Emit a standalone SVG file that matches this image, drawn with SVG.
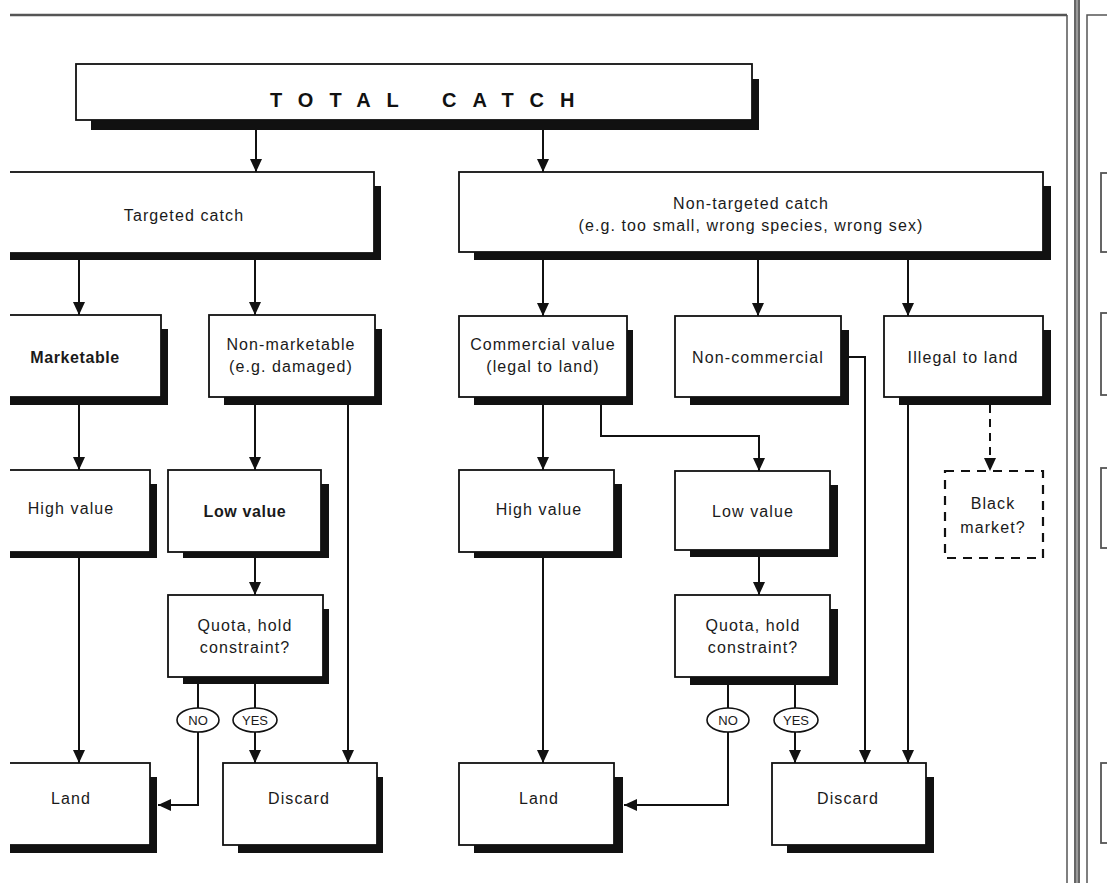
<svg xmlns="http://www.w3.org/2000/svg" width="1107" height="883" viewBox="0 0 1107 883">
<defs>
<marker id="ah" markerWidth="13" markerHeight="12" refX="13" refY="6" orient="auto" markerUnits="userSpaceOnUse">
<path d="M0,0 L13,6 L0,12 z" fill="#111"/>
</marker>
<clipPath id="page"><rect x="10" y="0" width="1097" height="883"/></clipPath>
</defs>
<style>
.box{fill:#fff;stroke:#111;stroke-width:1.8}
.sh{fill:#111}
.dash{fill:#fff;stroke:#111;stroke-width:2.2;stroke-dasharray:9 7}
.c{fill:none;stroke:#111;stroke-width:2}
.cd{fill:none;stroke:#111;stroke-width:2;stroke-dasharray:8 6}
.t{font-family:"Liberation Sans",Arial,sans-serif;font-size:16px;letter-spacing:1.1px;fill:#1a1a1a;text-anchor:middle;dominant-baseline:central}
.b{font-weight:bold;letter-spacing:0.6px}
.el{fill:#fff;stroke:#111;stroke-width:1.6}
.s{font-family:"Liberation Sans",Arial,sans-serif;font-size:13px;fill:#1a1a1a;text-anchor:middle;dominant-baseline:central}
.fr{stroke:#555;fill:none}
.tc{font-family:"Liberation Sans",Arial,sans-serif;font-size:20px;font-weight:bold;letter-spacing:16px;word-spacing:6px;fill:#111;dominant-baseline:central}
</style>
<rect x="0" y="0" width="1107" height="883" fill="#fff"/>
<g id="frame">
<line class="fr" x1="10" y1="15" x2="1067" y2="15" stroke-width="2.5"/>
<line class="fr" x1="1067" y1="15" x2="1067" y2="883" stroke-width="1.5" stroke="#777"/>
<rect x="1074" y="0" width="6" height="883" fill="#9a9a9a"/>
<line class="fr" x1="1075" y1="0" x2="1075" y2="883" stroke-width="1.5" stroke="#444"/>
<line class="fr" x1="1079" y1="0" x2="1079" y2="883" stroke-width="1.5" stroke="#444"/>
<polyline class="fr" points="1087,883 1087,15 1107,15" stroke-width="1.5"/>
<rect class="fr" x="1101" y="173" width="20" height="79" stroke-width="1.8"/>
<rect class="fr" x="1101" y="313" width="20" height="82" stroke-width="1.8"/>
<rect class="fr" x="1101" y="468" width="20" height="80" stroke-width="1.8"/>
<rect class="fr" x="1101" y="763" width="20" height="80" stroke-width="1.8"/>
</g>
<g clip-path="url(#page)">
<g id="connectors">
<line class="c" x1="256" y1="120" x2="256" y2="172" marker-end="url(#ah)"/>
<line class="c" x1="543" y1="120" x2="543" y2="172" marker-end="url(#ah)"/>
<line class="c" x1="79" y1="253" x2="79" y2="315" marker-end="url(#ah)"/>
<line class="c" x1="255" y1="253" x2="255" y2="315" marker-end="url(#ah)"/>
<line class="c" x1="543" y1="252" x2="543" y2="316" marker-end="url(#ah)"/>
<line class="c" x1="758" y1="252" x2="758" y2="316" marker-end="url(#ah)"/>
<line class="c" x1="908" y1="252" x2="908" y2="316" marker-end="url(#ah)"/>
<line class="c" x1="79" y1="397" x2="79" y2="470" marker-end="url(#ah)"/>
<line class="c" x1="255" y1="397" x2="255" y2="470" marker-end="url(#ah)"/>
<line class="c" x1="348" y1="397" x2="348" y2="763" marker-end="url(#ah)"/>
<line class="c" x1="79" y1="552" x2="79" y2="763" marker-end="url(#ah)"/>
<line class="c" x1="255" y1="552" x2="255" y2="595" marker-end="url(#ah)"/>
<line class="c" x1="198" y1="677" x2="198" y2="708"/>
<polyline class="c" points="198,732 198,805 158,805" marker-end="url(#ah)"/>
<line class="c" x1="255" y1="677" x2="255" y2="708"/>
<line class="c" x1="255" y1="732" x2="255" y2="763" marker-end="url(#ah)"/>
<line class="c" x1="543" y1="397" x2="543" y2="470" marker-end="url(#ah)"/>
<polyline class="c" points="601,397 601,436 759,436 759,471" marker-end="url(#ah)"/>
<line class="c" x1="543" y1="552" x2="543" y2="763" marker-end="url(#ah)"/>
<line class="c" x1="759" y1="550" x2="759" y2="595" marker-end="url(#ah)"/>
<line class="c" x1="728" y1="677" x2="728" y2="708"/>
<polyline class="c" points="728,732 728,805 624,805" marker-end="url(#ah)"/>
<line class="c" x1="795" y1="677" x2="795" y2="708"/>
<line class="c" x1="795" y1="732" x2="795" y2="763" marker-end="url(#ah)"/>
<polyline class="c" points="841,357 865,357 865,763" marker-end="url(#ah)"/>
<line class="c" x1="908" y1="397" x2="908" y2="763" marker-end="url(#ah)"/>
<line class="cd" x1="990" y1="405" x2="990" y2="471" marker-end="url(#ah)"/>
</g>
<g id="total-catch">
<rect class="sh" x="91" y="79" width="668" height="51"/>
<rect class="box" x="76" y="64" width="676" height="56"/>
<text class="tc" x="270" y="100">TOTAL CATCH</text>
</g>
<g id="targeted">
<rect class="sh" x="-5" y="186" width="386" height="74"/>
<rect class="box" x="-20" y="172" width="394" height="81"/>
<text class="t" x="184" y="215">Targeted catch</text>
</g>
<g id="non-targeted">
<rect class="sh" x="474" y="186" width="577" height="74"/>
<rect class="box" x="459" y="172" width="584" height="80"/>
<text class="t" x="751" y="203">Non-targeted catch</text>
<text class="t" x="751" y="225">(e.g. too small, wrong species, wrong sex)</text>
</g>
<g id="marketable">
<rect class="sh" x="-5" y="329" width="173" height="76"/>
<rect class="box" x="-20" y="315" width="181" height="82"/>
<text class="t b" x="75" y="357">Marketable</text>
</g>
<g id="non-marketable">
<rect class="sh" x="224" y="329" width="158" height="76"/>
<rect class="box" x="209" y="315" width="166" height="82"/>
<text class="t" x="291" y="344">Non-marketable</text>
<text class="t" x="291" y="366">(e.g. damaged)</text>
</g>
<g id="commercial">
<rect class="sh" x="474" y="330" width="159" height="75"/>
<rect class="box" x="459" y="316" width="168" height="81"/>
<text class="t" x="543" y="344">Commercial value</text>
<text class="t" x="543" y="366">(legal to land)</text>
</g>
<g id="non-commercial">
<rect class="sh" x="690" y="330" width="159" height="75"/>
<rect class="box" x="675" y="316" width="166" height="81"/>
<text class="t" x="758" y="357">Non-commercial</text>
</g>
<g id="illegal">
<rect class="sh" x="899" y="330" width="152" height="75"/>
<rect class="box" x="884" y="316" width="159" height="81"/>
<text class="t" x="963" y="357">Illegal to land</text>
</g>
<g id="high-value-left">
<rect class="sh" x="-5" y="484" width="162" height="74"/>
<rect class="box" x="-20" y="470" width="170" height="82"/>
<text class="t" x="71" y="508">High value</text>
</g>
<g id="low-value-left">
<rect class="sh" x="183" y="484" width="146" height="74"/>
<rect class="box" x="168" y="470" width="153" height="82"/>
<text class="t b" x="245" y="511">Low value</text>
</g>
<g id="high-value-mid">
<rect class="sh" x="474" y="484" width="148" height="74"/>
<rect class="box" x="459" y="470" width="155" height="82"/>
<text class="t" x="539" y="509">High value</text>
</g>
<g id="low-value-right">
<rect class="sh" x="690" y="485" width="148" height="72"/>
<rect class="box" x="675" y="471" width="155" height="79"/>
<text class="t" x="753" y="511">Low value</text>
</g>
<g id="black-market">
<rect class="dash" x="945" y="471" width="98" height="87"/>
<text class="t" x="993" y="503">Black</text>
<text class="t" x="993" y="527">market?</text>
</g>
<g id="quota-left">
<rect class="sh" x="183" y="609" width="146" height="75"/>
<rect class="box" x="168" y="595" width="155" height="82"/>
<text class="t" x="245" y="625">Quota, hold</text>
<text class="t" x="245" y="647">constraint?</text>
</g>
<g id="quota-right">
<rect class="sh" x="690" y="609" width="148" height="76"/>
<rect class="box" x="675" y="595" width="155" height="82"/>
<text class="t" x="753" y="625">Quota, hold</text>
<text class="t" x="753" y="647">constraint?</text>
</g>
<g id="no-left">
<ellipse class="el" cx="198" cy="720" rx="21" ry="12"/>
<text class="s" x="198" y="720">NO</text>
</g>
<g id="yes-left">
<ellipse class="el" cx="255" cy="720" rx="22" ry="12"/>
<text class="s" x="255" y="720">YES</text>
</g>
<g id="no-right">
<ellipse class="el" cx="728" cy="720" rx="21" ry="12"/>
<text class="s" x="728" y="720">NO</text>
</g>
<g id="yes-right">
<ellipse class="el" cx="796" cy="720" rx="22" ry="12"/>
<text class="s" x="796" y="720">YES</text>
</g>
<g id="land-left">
<rect class="sh" x="-5" y="777" width="162" height="76"/>
<rect class="box" x="-20" y="763" width="170" height="82"/>
<text class="t" x="71" y="798">Land</text>
</g>
<g id="discard-left">
<rect class="sh" x="238" y="777" width="145" height="76"/>
<rect class="box" x="223" y="763" width="154" height="82"/>
<text class="t" x="299" y="798">Discard</text>
</g>
<g id="land-mid">
<rect class="sh" x="474" y="777" width="149" height="76"/>
<rect class="box" x="459" y="763" width="155" height="82"/>
<text class="t" x="539" y="798">Land</text>
</g>
<g id="discard-right">
<rect class="sh" x="787" y="777" width="147" height="76"/>
<rect class="box" x="772" y="763" width="154" height="82"/>
<text class="t" x="848" y="798">Discard</text>
</g>
</g>
</svg>
